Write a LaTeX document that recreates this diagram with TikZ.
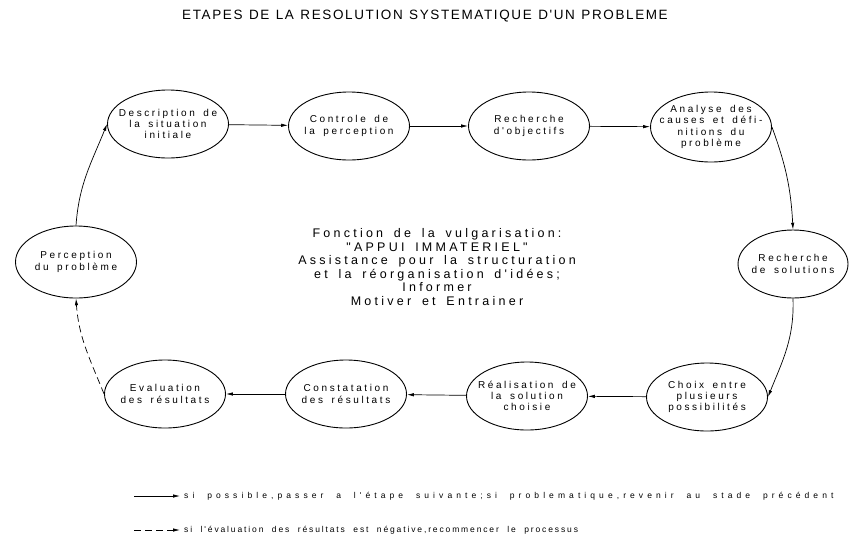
\documentclass[tikz,border=0pt]{standalone}
\usepackage{fontspec}
\setmainfont{Liberation Sans}
\usetikzlibrary{arrows.meta}
\usetikzlibrary{shapes.geometric}
\tikzset{>={Latex[length=2.4mm,width=1.2mm]}}
\newfontfamily\titrefont[LetterSpace=12,WordSpace=1.2]{Liberation Sans}
\newfontfamily\etapefont[LetterSpace=26,WordSpace=1.8]{Liberation Sans}
\newfontfamily\textefont[LetterSpace=26,WordSpace=1.6]{Liberation Sans}
\newfontfamily\legendefont[LetterSpace=48,WordSpace=2]{Liberation Sans}
\newfontfamily\legendbfont[LetterSpace=22,WordSpace=2]{Liberation Sans}
\tikzstyle{etape}=[draw,ellipse,line width=0.9pt,minimum width=121pt,minimum height=68pt,inner xsep=-25pt,inner ysep=-12pt,align=center,font=\etapefont\fontsize{10}{11.2}\selectfont]
\tikzstyle{fleche}=[->,line width=0.7pt]

\begin{document}
\begin{tikzpicture}[x=1pt,y=-1pt]
    \useasboundingbox (0,0) rectangle (850,539);
    \node[font=\titrefont\fontsize{13.5}{15}\selectfont] (titre) at (425,16)
      {ETAPES DE LA RESOLUTION SYSTEMATIQUE D'UN PROBLEME};
    
    % etapes
    \node[etape] (desc) at (168,124) {Description de\\la situation\\initiale};
    \node[etape] (contr) at (349,126) {Controle de\\la perception};
    \node[etape] (objec) at (529,126) {Recherche\\d'objectifs};
    \node[etape,minimum height=70pt] (analy) at (711,127) {Analyse des\\causes et défi-\\nitions du\\problème};
    \node[etape,minimum width=110pt] (solut) at (793,264) {Recherche\\de solutions};
    \node[etape] (choix) at (707,397) {Choix entre\\plusieurs\\possibilités};
    \node[etape] (reali) at (527,396) {Réalisation de\\la solution\\choisie};
    \node[etape] (const) at (346,394) {Constatation\\des résultats};
    \node[etape] (evalu) at (165,394) {Evaluation\\des résultats};
    \node[etape,minimum height=72pt] (perce) at (76,262) {Perception\\du problème};
    
    \node[align=center,font=\textefont\fontsize{12.5}{13.6}\selectfont] (fonct) at (437,267)
      {Fonction de la vulgarisation:\\"APPUI IMMATERIEL"\\Assistance pour la structuration\\et la réorganisation d'idées;\\Informer\\Motiver et Entrainer};
    
    \draw[fleche] (desc) -- (contr);
    \draw[fleche] (contr) -- (objec);
    \draw[fleche] (objec) -- (analy);
    \draw[fleche] (analy.east) to[out=-70,in=93] (solut.north);
    \draw[fleche] (solut.south) to[out=-88,in=68] (choix.east);
    \draw[fleche] (choix) -- (reali);
    \draw[fleche] (reali) -- (const);
    \draw[fleche] (const) -- (evalu);
    \draw[fleche,dashed,dash pattern=on 7pt off 4pt] (evalu.west) to[out=112,in=-86] (perce.south);
    \draw[fleche] (perce.north) to[out=86,in=-112] (desc.west);
    
    % legende
    \coordinate (l1) at (134,496);
    \coordinate (l2) at (134,530);
    \node[anchor=west,inner sep=4pt,font=\legendefont\fontsize{8.5}{9}\selectfont] (leg1) at (180,496)
      {si possible,passer a l'étape suivante;si problematique,revenir au stade précédent};
    \node[anchor=west,inner sep=4pt,font=\legendbfont\fontsize{8.5}{9}\selectfont] (leg2) at (180,530)
      {si l'évaluation des résultats est négative,recommencer le processus};
    \draw[fleche] (l1) -- (leg1.west);
    \draw[fleche,dashed,dash pattern=on 7pt off 4pt] (l2) -- (leg2.west);
\end{tikzpicture}
\end{document}
